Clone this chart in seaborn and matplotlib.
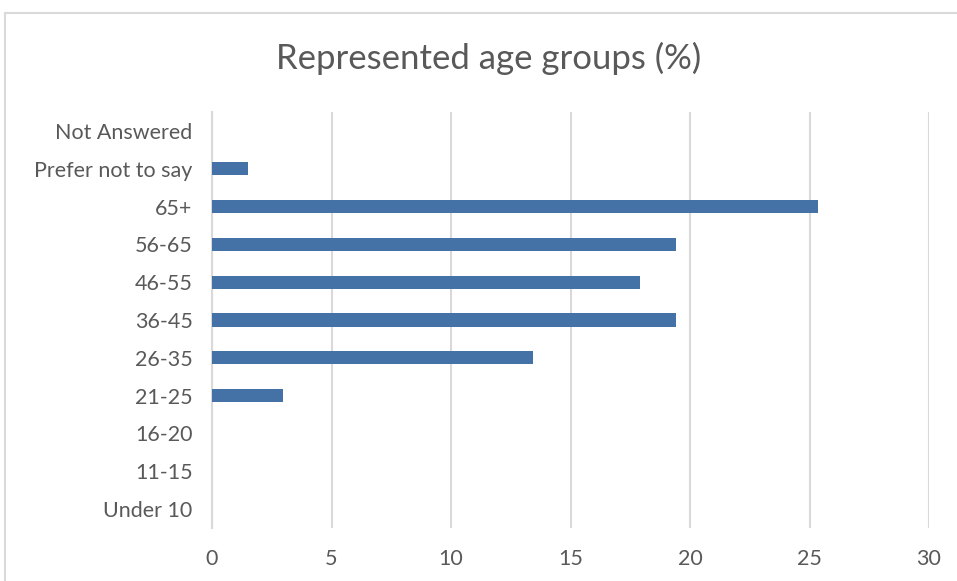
import matplotlib
matplotlib.use("Agg")
import matplotlib.pyplot as plt
from matplotlib.patches import Rectangle
import seaborn as sns
import pandas as pd

# Age-group categories, top to bottom, and share of respondents (%)
categories = ["Not Answered", "Prefer not to say", "65+", "56-65", "46-55",
              "36-45", "26-35", "21-25", "16-20", "11-15", "Under 10"]
percent = [0.0, 1.49, 25.37, 19.40, 17.91, 19.40, 13.43, 2.99, 0.0, 0.0, 0.0]
x_ticks = [0, 5, 10, 15, 20, 25, 30]

df = pd.DataFrame({"group": categories, "pct": percent})

sns.set_theme(style="white")
plt.rcParams["font.family"] = ["Lato", "DejaVu Sans"]

text_color = "#595959"
grid_color = "#D9D9D9"
bar_color = "#4472A6"

fig = plt.figure(figsize=(9.57, 5.81), dpi=100)
fig.patch.set_facecolor("white")

# Chart frame
fig.patches.append(Rectangle((5 / 957, -0.1), 1.2, (581 - 13) / 581 + 0.1,
                             transform=fig.transFigure, fill=False,
                             edgecolor=grid_color, linewidth=1.5, zorder=0))

ax = fig.add_axes([212 / 957, 53 / 581, (929 - 212) / 957, (528 - 112) / 581])

sns.barplot(data=df, x="pct", y="group", order=categories, color=bar_color,
            width=0.35, saturation=1, linewidth=0, ax=ax, zorder=3)

ax.set_xlim(0, 30)
ax.set_xticks(x_ticks)
ax.set_xticklabels([str(t) for t in x_ticks])
ax.grid(axis="x", color=grid_color, linewidth=1.5, zorder=0)
ax.set_axisbelow(True)
for side in ["top", "right", "bottom"]:
    ax.spines[side].set_visible(False)
ax.spines["left"].set_color(grid_color)
ax.spines["left"].set_linewidth(1.5)

ax.set_xlabel("")
ax.set_ylabel("")
ax.tick_params(axis="both", length=0, labelsize=15.5, labelcolor=text_color)
ax.tick_params(axis="y", pad=14)
ax.tick_params(axis="x", pad=15)

fig.text(489 / 957, 1 - 58 / 581, "Represented age groups (%)",
         ha="center", va="center", fontsize=25, color=text_color)

fig.savefig("out.png", dpi=100, facecolor="white")
